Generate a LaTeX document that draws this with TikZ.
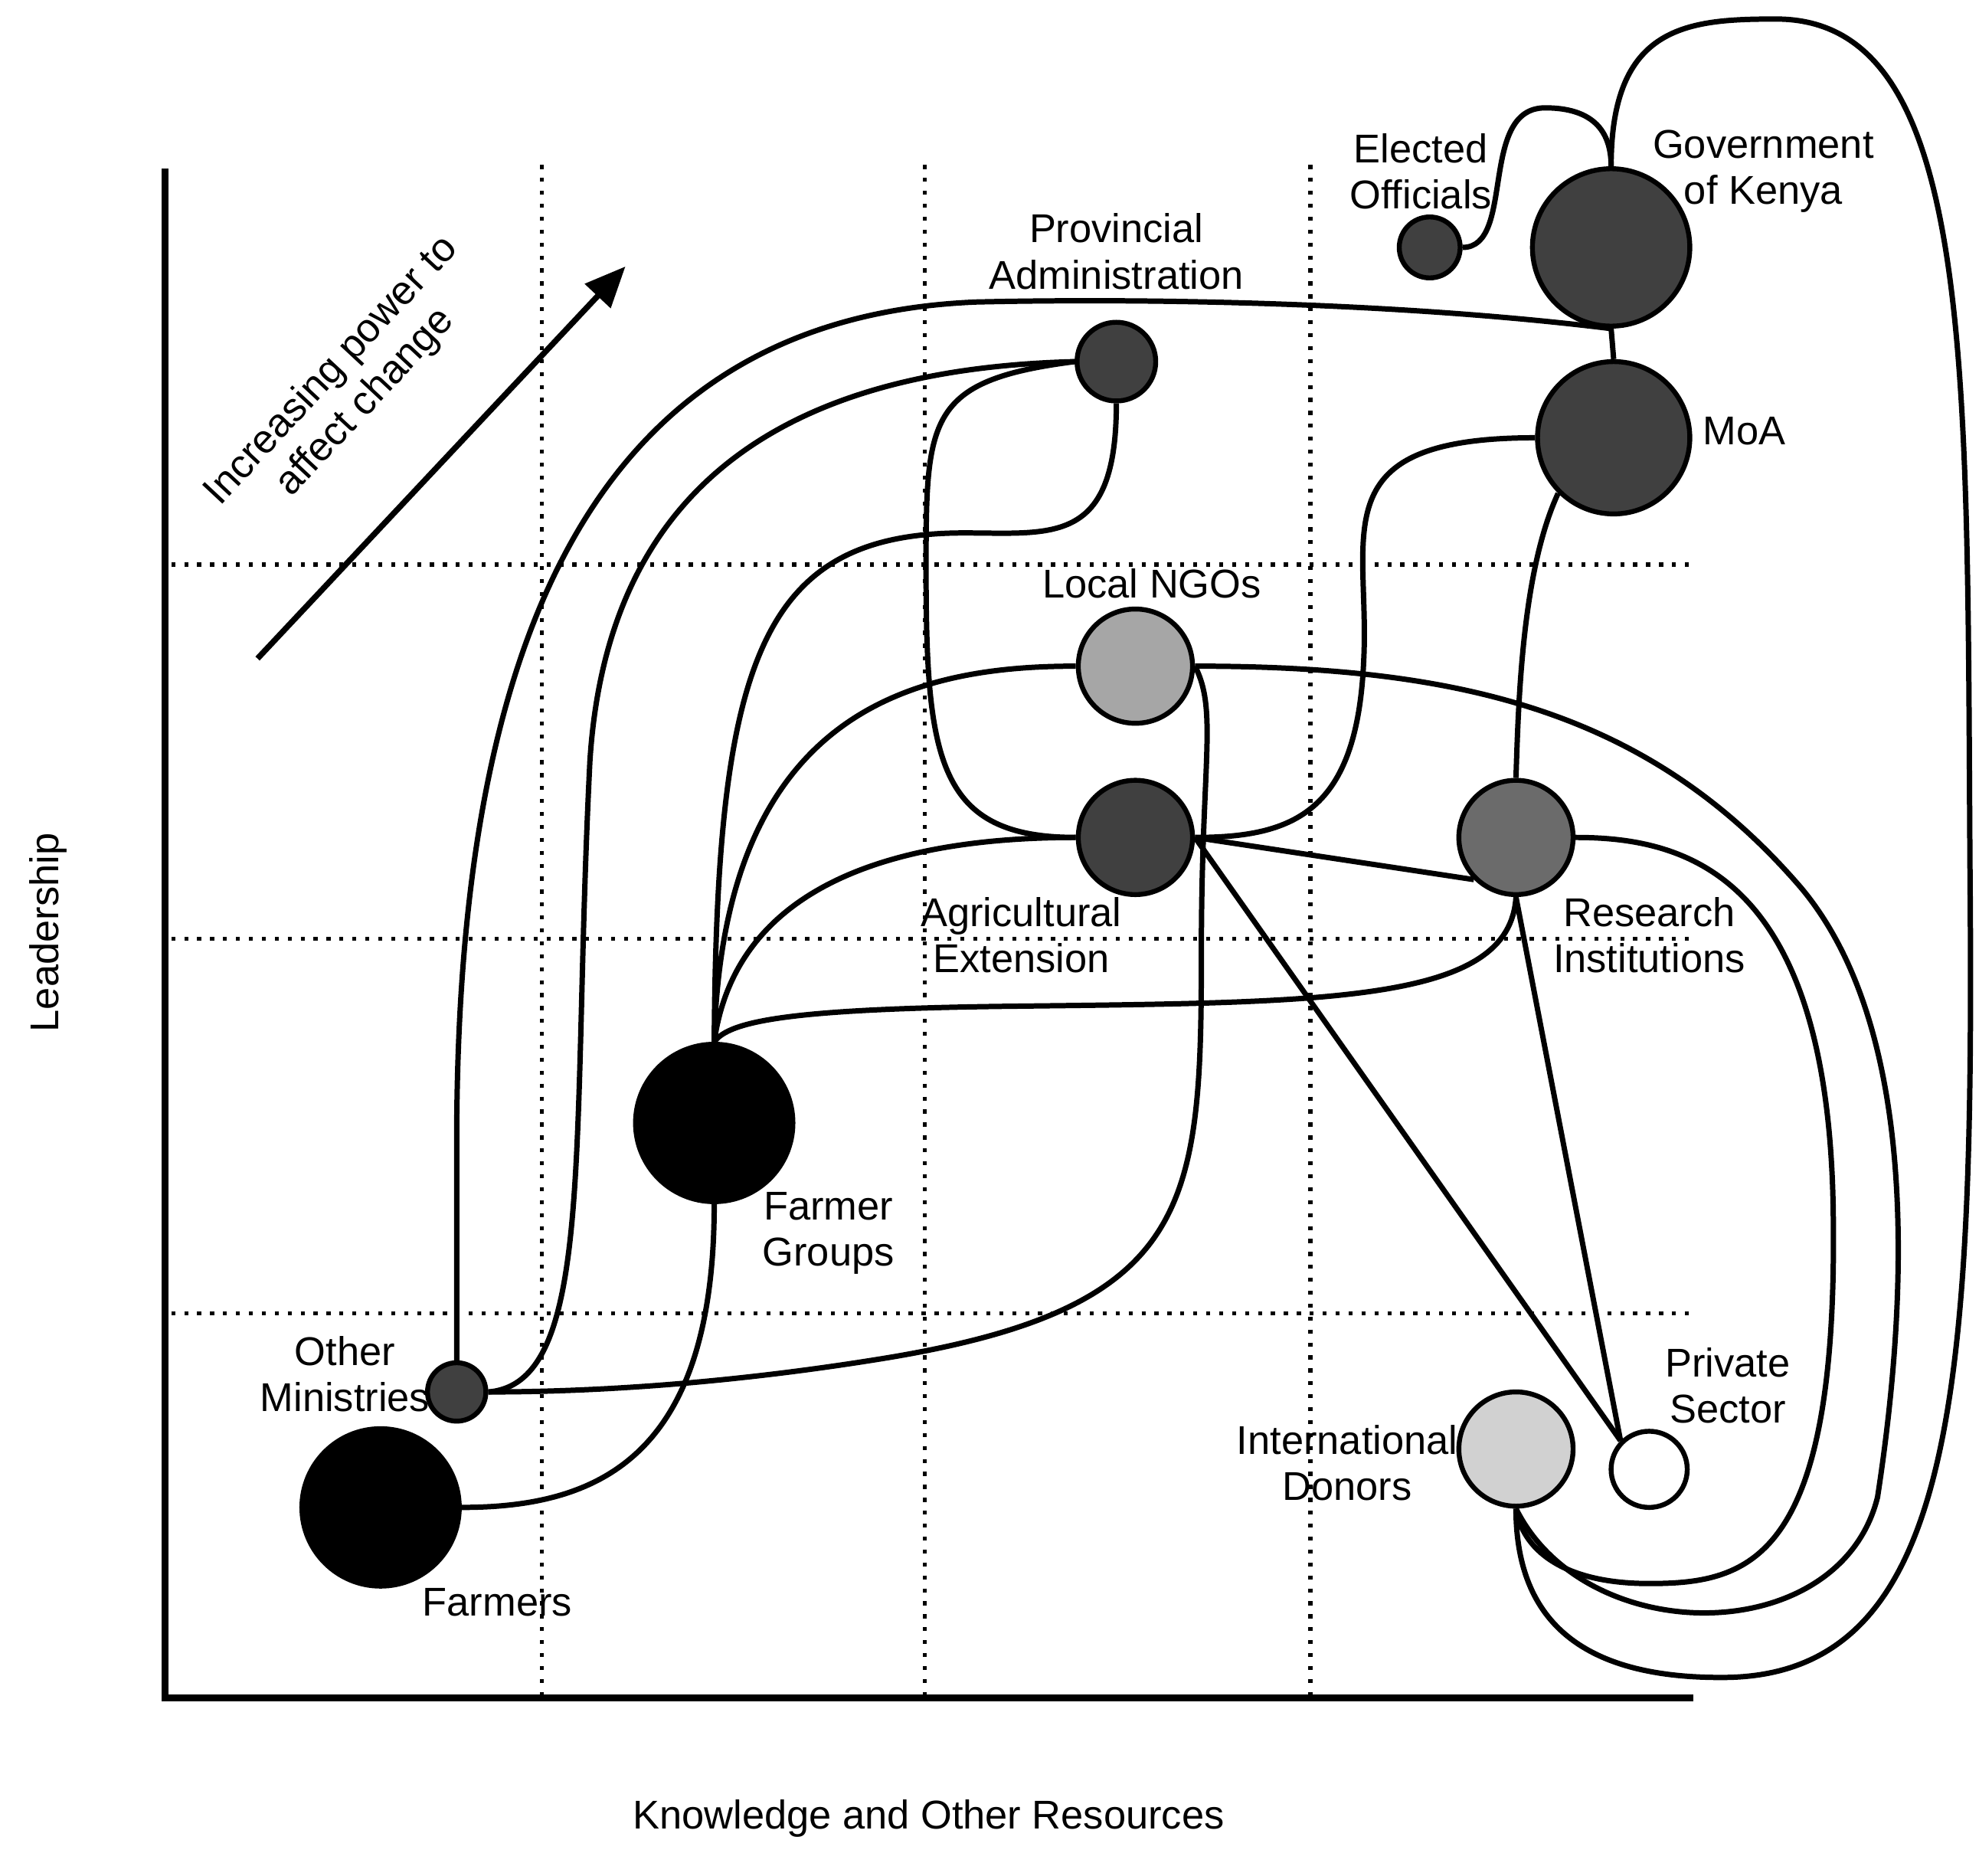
\documentclass[tikz,border=0pt]{standalone}
\usepackage{fontspec}
\setmainfont{Liberation Sans}
\usetikzlibrary{arrows.meta}
\begin{document}
\begin{tikzpicture}[x=0.01cm,y=-0.01cm,
  nd/.style={circle,draw=black,line width=1.1pt,inner sep=0pt},
  lab/.style={align=center,font=\fontsize{9}{10.4}\selectfont,inner sep=0pt},
  con/.style={line width=1.2pt},
  grid/.style={line width=0.9pt,dotted}]
\useasboundingbox (0,0) rectangle (1560,1478.5);
% grid
\foreach \x in {427,729,1033} \draw[grid] (\x,130) -- (\x,1340);
\foreach \y in {445,740,1035} \draw[grid] (135,\y) -- (1335,\y);
\draw[line width=1.6pt] (130,133) -- (130,1338) -- (1335,1338);
% power arrow
\coordinate (pa) at (203,519); \coordinate (pb) at (493,210);
\draw[line width=1.3pt,-{Triangle[length=0.32cm,width=0.27cm]}] (pa) -- (pb);
\node[lab,rotate=47] (pow) at (275,305) {Increasing power to\\affect change};
\node[lab,rotate=90] (lead) at (38,735) {Leadership};
\node[lab] (know) at (732,1433) {Knowledge and Other Resources};
% nodes
\node[nd,fill=black!75,minimum size=1.24cm] (gov) at (1270,195) {};
\node[nd,fill=black!75,minimum size=0.48cm] (ele) at (1127,195) {};
\node[nd,fill=black!75,minimum size=1.2cm] (moa) at (1272,345) {};
\node[nd,fill=black!75,minimum size=0.62cm] (pro) at (880,285) {};
\node[nd,fill=black!35,minimum size=0.9cm] (ngo) at (895,525) {};
\node[nd,fill=black!75,minimum size=0.9cm] (ext) at (895,660) {};
\node[nd,fill=black!58,minimum size=0.9cm] (res) at (1195,660) {};
\node[nd,fill=black,minimum size=1.24cm] (fg) at (563,885) {};
\node[nd,fill=black!75,minimum size=0.46cm] (om) at (360,1097) {};
\node[nd,fill=black,minimum size=1.24cm] (fa) at (300,1188) {};
\node[nd,fill=black!18,minimum size=0.9cm] (don) at (1195,1142) {};
\node[nd,fill=white,minimum size=0.6cm] (ps) at (1300,1158) {};
% labels
\node[lab] (lele) at (1120,135) {Elected\\Officials};
\node[lab] (lgov) at (1390,135) {Government\\of Kenya};
\node[lab] (lpro) at (880,198) {Provincial\\Administration};
\node[lab] (lmoa) at (1375,340) {MoA};
\node[lab] (lngo) at (908,460) {Local NGOs};
\node[lab] (lext) at (805,737) {Agricultural\\Extension};
\node[lab] (lres) at (1300,737) {Research\\Institutions};
\node[lab] (lfg) at (653,972) {Farmer\\Groups};
\node[lab] (lom) at (272,1083) {Other\\Ministries};
\node[lab] (lfa) at (392,1263) {Farmers};
\node[lab] (ldon) at (1062,1153) {International\\Donors};
\node[lab] (lps) at (1362,1092) {Private\\Sector};
% connectors
\draw[con] (ele.east) .. controls (1195,195) and (1165,85) .. (1218,85) .. controls (1262,85) and (1270,110) .. (gov.north);
\draw[con] (gov.north) .. controls (1270,20) and (1330,15) .. (1400,15) .. controls (1560,15) and (1550,300) .. (1553,700) .. controls (1556,1100) and (1540,1320) .. (1360,1322) .. controls (1250,1323) and (1195,1280) .. (don.south);
\draw[con] (ngo.east) .. controls (1150,525) and (1300,560) .. (1420,700) .. controls (1520,820) and (1500,1050) .. (1480,1180) .. controls (1450,1300) and (1250,1300) .. (don.south);
\draw[con] (res.east) .. controls (1330,660) and (1440,690) .. (1445,950) .. controls (1450,1230) and (1380,1248) .. (1300,1248) .. controls (1230,1248) and (1200,1220) .. (don.south);
\draw[con] (gov.south) -- (moa.north);
\draw[con] (gov.south) .. controls (1100,238) and (900,235) .. (770,238) .. controls (470,250) and (360,500) .. (360,900) -- (om.north);
\draw[con] (pro.west) .. controls (650,290) and (480,360) .. (465,600) .. controls (450,900) and (470,1090) .. (om.east);
\draw[con] (pro.west) .. controls (730,300) and (730,330) .. (730,450) .. controls (730,600) and (740,660) .. (ext.west);
\draw[con] (pro.south) .. controls (880,430) and (830,420) .. (760,420) .. controls (600,420) and (565,520) .. (fg.north);
\draw[con] (ngo.west) .. controls (720,525) and (570,560) .. (fg.north);
\draw[con] (ext.west) .. controls (700,660) and (580,700) .. (fg.north);
\draw[con] (res.south) .. controls (1190,790) and (1050,790) .. (800,793) .. controls (620,795) and (575,805) .. (fg.north);
\draw[con] (moa.west) .. controls (1040,345) and (1080,420) .. (1075,520) .. controls (1070,640) and (1020,660) .. (ext.east);
\draw[con] (moa.south west) .. controls (1200,450) and (1197,550) .. (res.north);
\draw[con] (ext.east) -- (res.south west);
\draw[con] (ext.east) -- (ps.north west);
\draw[con] (res.south) -- (ps.north west);
\draw[con] (ngo.east) .. controls (960,560) and (947,600) .. (947,750) .. controls (947,950) and (940,1030) .. (700,1070) .. controls (560,1093) and (450,1097) .. (om.east);
\draw[con] (fa.east) .. controls (470,1188) and (563,1150) .. (fg.south);
\end{tikzpicture}
\end{document}
